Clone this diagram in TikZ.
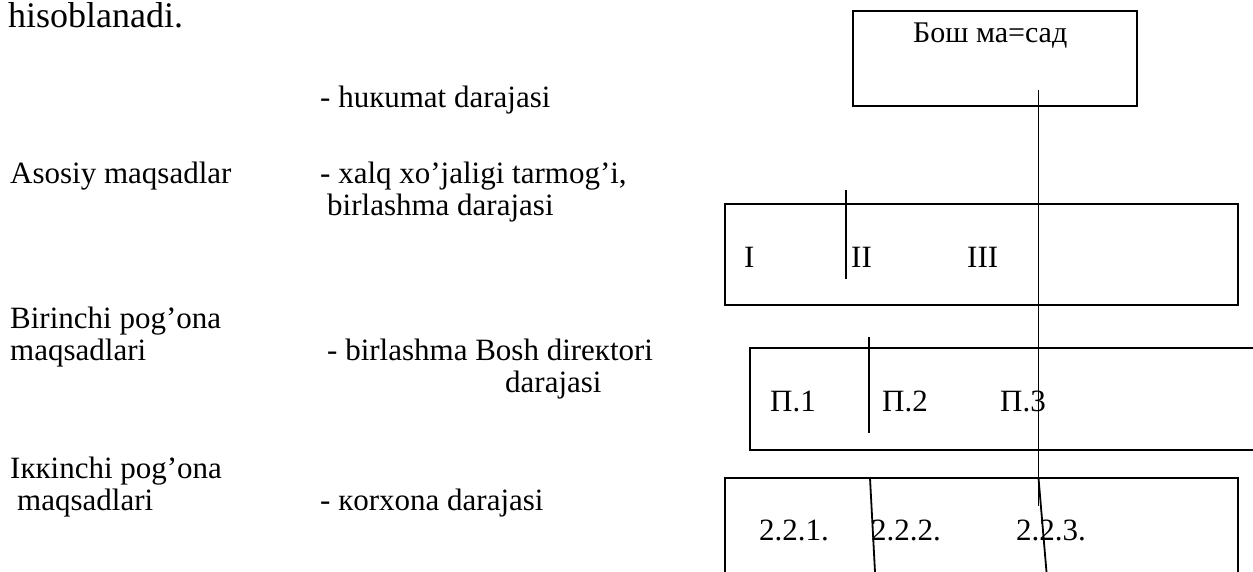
\documentclass[tikz,border=0pt]{standalone}
\usepackage{fontspec}
\setmainfont{Liberation Serif}
\tikzset{
  frame/.style={draw, line width=1.3pt, inner sep=0pt},
  txt/.style={anchor=base west, inner sep=0pt, font=\fontsize{31}{36}\selectfont},
  boxtxt/.style={anchor=base west, inner sep=0pt, font=\fontsize{31}{36}\selectfont},
  link/.style={line width=1.8pt}
}
\begin{document}
\begin{tikzpicture}[x=1pt,y=-1pt]
\useasboundingbox (0,0) rectangle (1253,572);
% left text
\node[txt, font=\fontsize{36}{40}\selectfont] (h) at (8,28) {hisoblanadi.};
\node[txt] (l1) at (320,108) {- huкumat darajasi};
\node[txt] (l2a) at (10,184) {Asosiy maqsadlar};
\node[txt] (l2b) at (320,184) {- xalq xo’jaligi tarmog’i,};
\node[txt] (l2c) at (327,215) {birlashma darajasi};
\node[txt] (l3a) at (10,328) {Birinchi pog’ona};
\node[txt] (l3b) at (10,360) {maqsadlari};
\node[txt] (l3c) at (327,360) {- birlashma Bosh direкtori};
\node[txt] (l3d) at (505,392) {darajasi};
\node[txt] (l4a) at (10,478) {Iккinchi pog’ona};
\node[txt] (l4b) at (17,510) {maqsadlari};
\node[txt] (l4c) at (320,510) {- кorxona darajasi};
% boxes
\node[frame, minimum width=284pt, minimum height=95pt] (top) at (995,58.5) {};
\node[boxtxt, font=\fontsize{30}{34}\selectfont] (toptxt) at (913,43) {Бош ма=сад};
\node[frame, minimum width=513pt, minimum height=101pt] (b1) at (981.5,254.5) {};
\node[boxtxt] (i1) at (744,268) {I};
\node[boxtxt] (i2) at (851,268) {II};
\node[boxtxt] (i3) at (967,268) {III};
\node[frame, minimum width=540pt, minimum height=102pt] (b2) at (1020,399) {};
\node[boxtxt] (p1) at (770,411) {П.1};
\node[boxtxt] (p2) at (882,411) {П.2};
\node[boxtxt] (p3) at (1000,411) {П.3};
\node[frame, minimum width=513pt, minimum height=122pt] (b3) at (981.5,539) {};
\node[boxtxt] (q1) at (759,540) {2.2.1.};
\node[boxtxt] (q2) at (871,540) {2.2.2.};
\node[boxtxt] (q3) at (1016,540) {2.2.3.};
% connectors
\coordinate (m0) at (1038.5,90);
\coordinate (m1) at (1038.5,506);
\coordinate (s0) at (846,190);
\coordinate (s1) at (846,279);
\coordinate (u0) at (869,337);
\coordinate (u1) at (869,433);
\coordinate (v0) at (870,478);
\coordinate (v1) at (875,572);
\coordinate (w0) at (1038.5,478);
\coordinate (w1) at (1046.5,572);
\draw[link] (m0) -- (m1);
\draw[link] (s0) -- (s1);
\draw[link] (u0) -- (u1);
\draw[link] (v0) -- (v1);
\draw[link] (w0) -- (w1);
\end{tikzpicture}
\end{document}
